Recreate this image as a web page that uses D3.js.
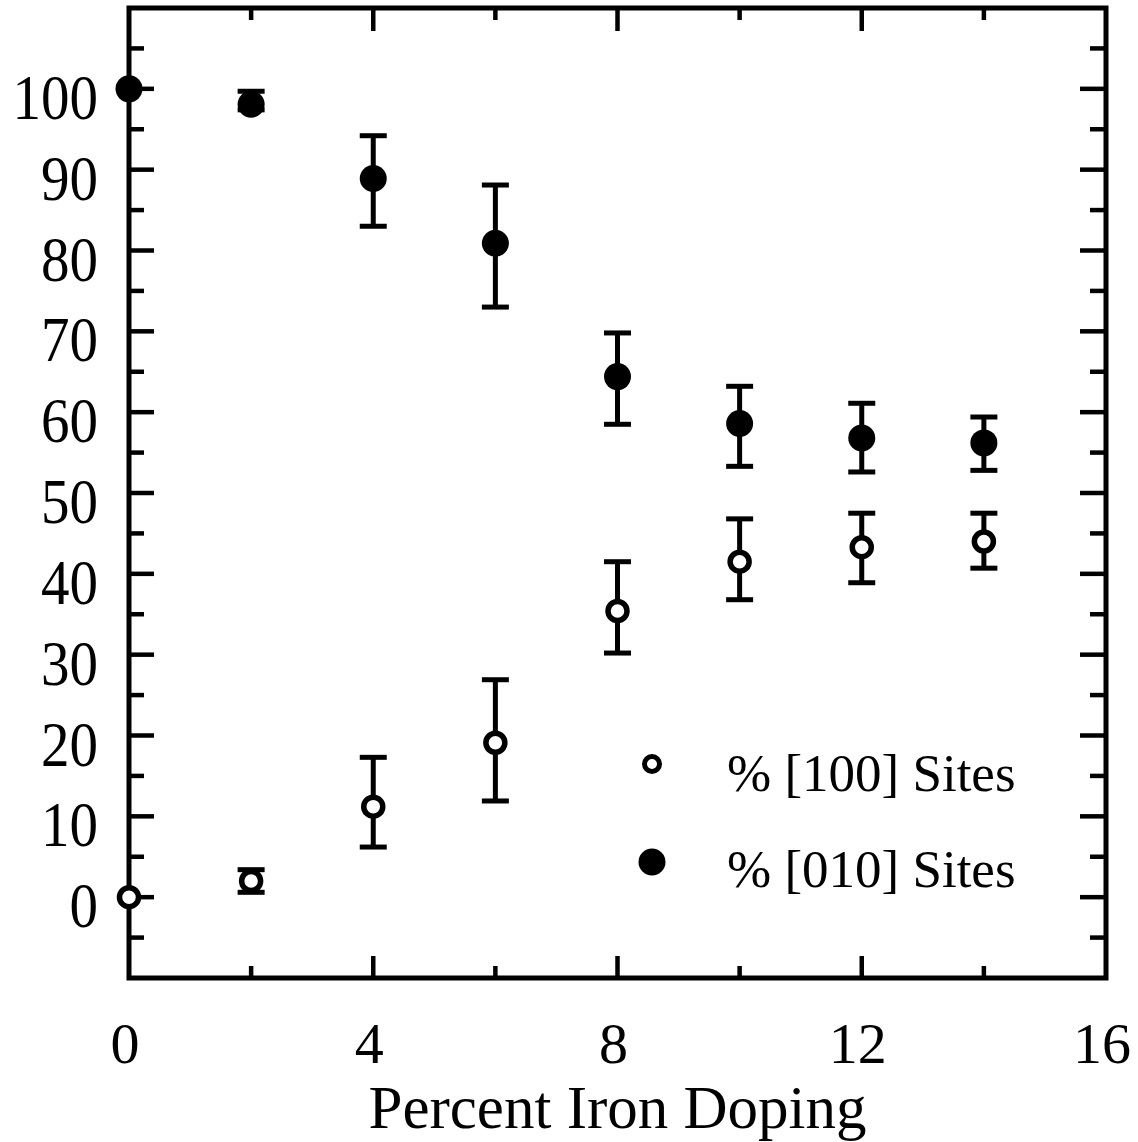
<!DOCTYPE html>
<html>
<head>
<meta charset="utf-8">
<script src="https://cdn.jsdelivr.net/npm/d3@7/dist/d3.min.js"></script>
<style>
html,body{margin:0;padding:0;background:#fff;}
svg{display:block;}
text{font-family:"Liberation Serif","Times New Roman",serif;fill:#000;}
</style>
</head>
<body>
<svg id="chart" width="1138" height="1142"></svg>
<script>
// ---- data ----
const doping = [0, 2, 4, 6, 8, 10, 12, 14];
const sites010 = [100, 98.1, 88.9, 80.9, 64.4, 58.6, 56.8, 56.2];
const sites010Hi = [null, 99.7, 94.2, 88.1, 69.8, 63.2, 61.1, 59.4];
const sites010Lo = [null, 97.4, 83.0, 73.0, 58.5, 53.3, 52.6, 52.8];
const sites100 = [0, 2.0, 11.2, 19.1, 35.4, 41.5, 43.3, 44.0];
const sites100Hi = [null, 3.4, 17.3, 26.9, 41.5, 46.8, 47.5, 47.5];
const sites100Lo = [null, 0.6, 6.2, 11.9, 30.2, 36.8, 38.9, 40.7];
const xTickLabels = [0, 4, 8, 12, 16];
const yTickLabels = [0, 10, 20, 30, 40, 50, 60, 70, 80, 90, 100];
const legendLabels = ["% [100] Sites", "% [010] Sites"];
const xTitle = "Percent Iron Doping";

// ---- layout ----
const svg = d3.select("#chart");
const L = 129, R = 1106, T = 8, B = 978;
const x = d3.scaleLinear().domain([0, 16]).range([L, R]);
const y = d3.scaleLinear().domain([-10, 110]).range([B, T]);

const g = svg.append("g");

// ticks
const yMajor = d3.range(0, 101, 10);
const yMinor = d3.range(-5, 106, 10);
const xMajor = [4, 8, 12];
const xMinor = [2, 6, 10, 14];
const tw = 4.5;

function tick(x1, y1, x2, y2) {
  g.append("line").attr("x1", x1).attr("y1", y1).attr("x2", x2).attr("y2", y2)
    .attr("stroke", "#000").attr("stroke-width", tw);
}
yMajor.forEach(v => { tick(L, y(v), L + 25, y(v)); tick(R, y(v), R - 26, y(v)); });
yMinor.forEach(v => { tick(L, y(v), L + 15, y(v)); tick(R, y(v), R - 16, y(v)); });
xMajor.forEach(v => { tick(x(v), B, x(v), B - 22); tick(x(v), T, x(v), T + 23); });
xMinor.forEach(v => { tick(x(v), B, x(v), B - 12); tick(x(v), T, x(v), T + 12); });

// frame
g.append("rect").attr("x", L).attr("y", T).attr("width", R - L).attr("height", B - T)
  .attr("fill", "none").attr("stroke", "#000").attr("stroke-width", 5);

// tick labels
g.selectAll(".ylab").data(yTickLabels).enter().append("text")
  .attr("transform", d => `translate(98,${y(d) + 30}) scale(1,1.13)`)
  .attr("text-anchor", "end").attr("font-size", 57).text(d => d);
g.selectAll(".xlab").data(xTickLabels).enter().append("text")
  .attr("x", d => x(d) - 4).attr("y", 1063)
  .attr("text-anchor", "middle").attr("font-size", 58).text(d => d);
g.append("text").attr("x", x(8)).attr("y", 1128)
  .attr("text-anchor", "middle").attr("font-size", 61).text(xTitle);

// error bars
function errorBars(lo, hi) {
  doping.forEach((d, i) => {
    if (lo[i] == null) return;
    const cx = x(d);
    g.append("line").attr("x1", cx).attr("x2", cx).attr("y1", y(lo[i])).attr("y2", y(hi[i]))
      .attr("stroke", "#000").attr("stroke-width", 5);
    [lo[i], hi[i]].forEach(v => {
      g.append("line").attr("x1", cx - 13.5).attr("x2", cx + 13.5).attr("y1", y(v)).attr("y2", y(v))
        .attr("stroke", "#000").attr("stroke-width", 5);
    });
  });
}
errorBars(sites010Lo, sites010Hi);
errorBars(sites100Lo, sites100Hi);

// points
g.selectAll(".p010").data(doping).enter().append("circle")
  .attr("cx", d => x(d)).attr("cy", (d, i) => y(sites010[i])).attr("r", 13.5)
  .attr("fill", "#000");
g.selectAll(".p100").data(doping).enter().append("circle")
  .attr("cx", d => x(d)).attr("cy", (d, i) => y(sites100[i])).attr("r", 9.5)
  .attr("fill", "#fff").attr("stroke", "#000").attr("stroke-width", 5.5);

// legend
const lg = svg.append("g");
lg.append("circle").attr("cx", 652).attr("cy", 764).attr("r", 7.5)
  .attr("fill", "#fff").attr("stroke", "#000").attr("stroke-width", 5);
lg.append("circle").attr("cx", 652).attr("cy", 862).attr("r", 13.5).attr("fill", "#000");
lg.append("text").attr("x", 727).attr("y", 791).attr("font-size", 53).text(legendLabels[0]);
lg.append("text").attr("x", 727).attr("y", 887).attr("font-size", 53).text(legendLabels[1]);
</script>
</body>
</html>
